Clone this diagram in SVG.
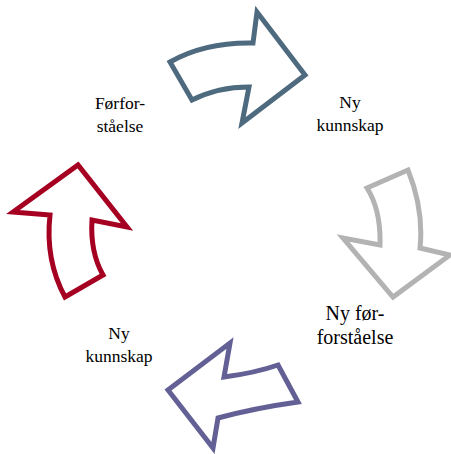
<svg xmlns="http://www.w3.org/2000/svg" width="451" height="454" viewBox="0 0 451 454">
<style>
.arrow{fill:#ffffff;stroke-width:5;stroke-linejoin:miter;stroke-miterlimit:10}
.lbl{font-family:"Liberation Serif","Times New Roman",serif;fill:#000000;text-anchor:middle}
.s{font-size:17.5px}
.b{font-size:20px}
</style>
<rect width="451" height="454" fill="#ffffff"/>
<g id="connectors">
<path id="arrow-top" class="arrow" stroke="#4e6a7e" d="M170,62 Q205,42 253,43 L257,12 L305,75 L242,123 L249,87 Q218,87 192,100 Z"/>
<path id="arrow-right" class="arrow" stroke="#b3b3b3" d="M367,188 L408,170 Q424,210 420,248 L450,255 L393,297 L343,238 L380,245 Q381,210 367,188 Z"/>
<path id="arrow-bottom" class="arrow" stroke="#636096" d="M278,365 L298,402 Q255,408 218,418 L213,448 L168,390 L230,343 L224,377 Q255,373 278,365 Z"/>
<path id="arrow-left" class="arrow" stroke="#a50021" d="M65,297 Q45,260 50,215 L13,212 L78,165 L127,227 L92,220 Q90,252 103,275 Z"/>
</g>
<g id="node-forforstaelse">
<text class="lbl s" x="120" y="109">Førfor-</text>
<text class="lbl s" x="120" y="132">ståelse</text>
</g>
<g id="node-ny-kunnskap-1">
<text class="lbl s" x="350" y="108">Ny</text>
<text class="lbl s" x="350" y="131">kunnskap</text>
</g>
<g id="node-ny-forforstaelse">
<text class="lbl b" x="355" y="320">Ny før-</text>
<text class="lbl b" x="355" y="344">forståelse</text>
</g>
<g id="node-ny-kunnskap-2">
<text class="lbl s" x="119" y="339">Ny</text>
<text class="lbl s" x="119" y="362">kunnskap</text>
</g>
</svg>
